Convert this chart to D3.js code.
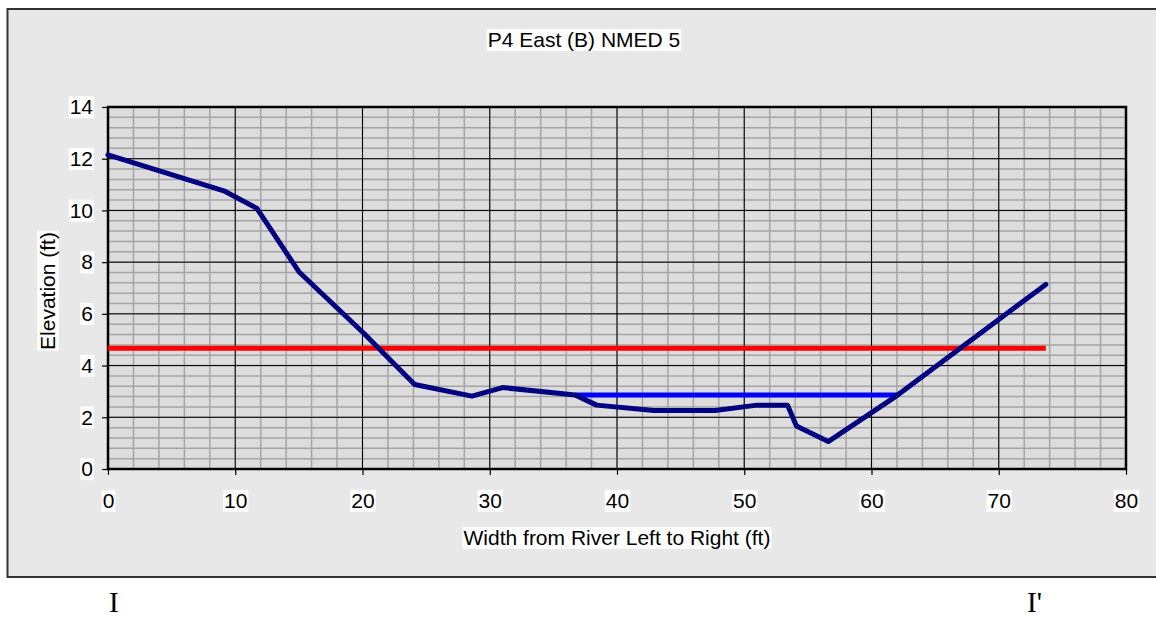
<!DOCTYPE html>
<html>
<head>
<meta charset="utf-8">
<script src="https://cdn.jsdelivr.net/npm/d3@7"></script>
<style>
    body { margin: 0; background: white; }
    text { font-family: "Liberation Sans", Arial, sans-serif; }
</style>
</head>
<body>
<div id="container"></div>
<script>
// cross-section chart

const profileX = [0, 9.1, 11.7, 15.0, 20.1, 24.1, 28.6, 31.0, 36.7, 38.4, 42.9, 47.7, 51.0, 53.4, 54.1, 56.6, 62.0, 73.7]
const profileY = [12.15, 10.76, 10.08, 7.63, 5.25, 3.27, 2.82, 3.15, 2.86, 2.47, 2.26, 2.26, 2.47, 2.47, 1.66, 1.06, 2.84, 7.14]
const waterX = [36.7, 62.0]
const waterY = [2.86, 2.86]
const bankfullX = [0, 73.7]
const bankfullY = [4.67, 4.67]
const xTicks = [0, 10, 20, 30, 40, 50, 60, 70, 80]
const yTicks = [0, 2, 4, 6, 8, 10, 12, 14]

const title = "P4 East (B) NMED 5"
const xLabel = "Width from River Left to Right (ft)"
const yLabel = "Elevation (ft)"

const w = 1156
const h = 619

const svg = d3.select("#container")
    .append("svg")
    .attr("width", w)
    .attr("height", h)

// chart frame
svg.append("rect")
    .attr("x", 7.5)
    .attr("y", 9)
    .attr("width", 1160)
    .attr("height", 568)
    .attr("fill", "#e8e8e8")
    .attr("stroke", "#333")
    .attr("stroke-width", 2)

const xScale = d3.scaleLinear()
    .domain([0, 80])
    .range([108, 1126])
const yScale = d3.scaleLinear()
    .domain([0, 14])
    .range([469, 107])

svg.append("rect")
    .attr("x", xScale(0))
    .attr("y", yScale(14))
    .attr("width", xScale(80) - xScale(0))
    .attr("height", yScale(0) - yScale(14))
    .attr("fill", "#dddddd")

// minor grid
const minorX = d3.range(0, 80.01, 2)
const minorY = d3.range(0, 14.01, 0.4)
svg.append("g")
    .selectAll(null)
    .data(minorX)
    .enter()
    .append("line")
    .attr("x1", (d) => xScale(d))
    .attr("x2", (d) => xScale(d))
    .attr("y1", yScale(0))
    .attr("y2", yScale(14))
    .attr("stroke", "#a4a4a4")
    .attr("stroke-width", 1.5)
svg.append("g")
    .selectAll(null)
    .data(minorY)
    .enter()
    .append("line")
    .attr("x1", xScale(0))
    .attr("x2", xScale(80))
    .attr("y1", (d) => yScale(d))
    .attr("y2", (d) => yScale(d))
    .attr("stroke", "#a4a4a4")
    .attr("stroke-width", 1.5)

// major grid
svg.append("g")
    .selectAll(null)
    .data(xTicks)
    .enter()
    .append("line")
    .attr("x1", (d) => xScale(d))
    .attr("x2", (d) => xScale(d))
    .attr("y1", yScale(0))
    .attr("y2", yScale(14))
    .attr("stroke", "#000")
    .attr("stroke-width", 1)
svg.append("g")
    .selectAll(null)
    .data(yTicks)
    .enter()
    .append("line")
    .attr("x1", xScale(0))
    .attr("x2", xScale(80))
    .attr("y1", (d) => yScale(d))
    .attr("y2", (d) => yScale(d))
    .attr("stroke", "#000")
    .attr("stroke-width", 1)

svg.append("rect")
    .attr("x", xScale(0))
    .attr("y", yScale(14))
    .attr("width", xScale(80) - xScale(0))
    .attr("height", yScale(0) - yScale(14))
    .attr("fill", "none")
    .attr("stroke", "#000")
    .attr("stroke-width", 2.5)

// axes
const xAxis = d3.axisBottom(xScale)
    .tickValues(xTicks)
    .tickSize(6)
    .tickPadding(18)
const yAxis = d3.axisLeft(yScale)
    .tickValues(yTicks)
    .tickSize(6)
    .tickPadding(9)

const gx = svg.append("g")
    .attr("transform", `translate(0, ${yScale(0)})`)
    .call(xAxis)
const gy = svg.append("g")
    .attr("transform", `translate(${xScale(0)}, 0)`)
    .call(yAxis)
for (const g of [gx, gy]) {
    g.select(".domain").remove()
    g.selectAll(".tick line").attr("stroke", "#000").attr("stroke-width", 1.2)
    g.selectAll(".tick text")
        .attr("fill", "#000")
        .style("font-size", "21px")
        .style("font-family", "'Liberation Sans', Arial, sans-serif")
}

// series
const line = d3.line()
    .x((d) => xScale(d[0]))
    .y((d) => yScale(d[1]))

svg.append("path")
    .datum(bankfullX.map((d, i) => [d, bankfullY[i]]))
    .attr("d", line)
    .attr("fill", "none")
    .attr("stroke", "#ff0000")
    .attr("stroke-width", 5)
svg.append("path")
    .datum(waterX.map((d, i) => [d, waterY[i]]))
    .attr("d", line)
    .attr("fill", "none")
    .attr("stroke", "#0000ff")
    .attr("stroke-width", 5)
svg.append("path")
    .datum(profileX.map((d, i) => [d, profileY[i]]))
    .attr("d", line)
    .attr("fill", "none")
    .attr("stroke", "#000080")
    .attr("stroke-width", 5)
    .attr("stroke-linejoin", "round")
    .attr("stroke-linecap", "round")

// titles
svg.append("text")
    .attr("x", 584)
    .attr("y", 47)
    .attr("text-anchor", "middle")
    .style("font-size", "21px")
    .text(title)
svg.append("text")
    .attr("x", xScale(40))
    .attr("y", 545)
    .attr("text-anchor", "middle")
    .style("font-size", "21px")
    .text(xLabel)
svg.append("text")
    .attr("transform", "translate(55, 291) rotate(-90)")
    .attr("text-anchor", "middle")
    .style("font-size", "21px")
    .text(yLabel)

// white boxes behind the texts
svg.selectAll("text").each(function () {
    const b = this.getBBox()
    const parent = this.parentNode
    const t = this.getAttribute("transform")
    const r = document.createElementNS("http://www.w3.org/2000/svg", "rect")
    r.setAttribute("x", b.x - 1)
    r.setAttribute("y", b.y + 1)
    r.setAttribute("width", b.width + 2)
    r.setAttribute("height", b.height - 1)
    r.setAttribute("fill", "#fff")
    if (t) r.setAttribute("transform", t)
    parent.insertBefore(r, this)
})

// section markers
svg.append("text")
    .attr("x", 109)
    .attr("y", 612)
    .style("font-family", "'Liberation Serif', 'Times New Roman', serif")
    .style("font-size", "29px")
    .text("I")
svg.append("text")
    .attr("x", 1027)
    .attr("y", 612)
    .style("font-family", "'Liberation Serif', 'Times New Roman', serif")
    .style("font-size", "29px")
    .text("I'")
</script>
</body>
</html>
